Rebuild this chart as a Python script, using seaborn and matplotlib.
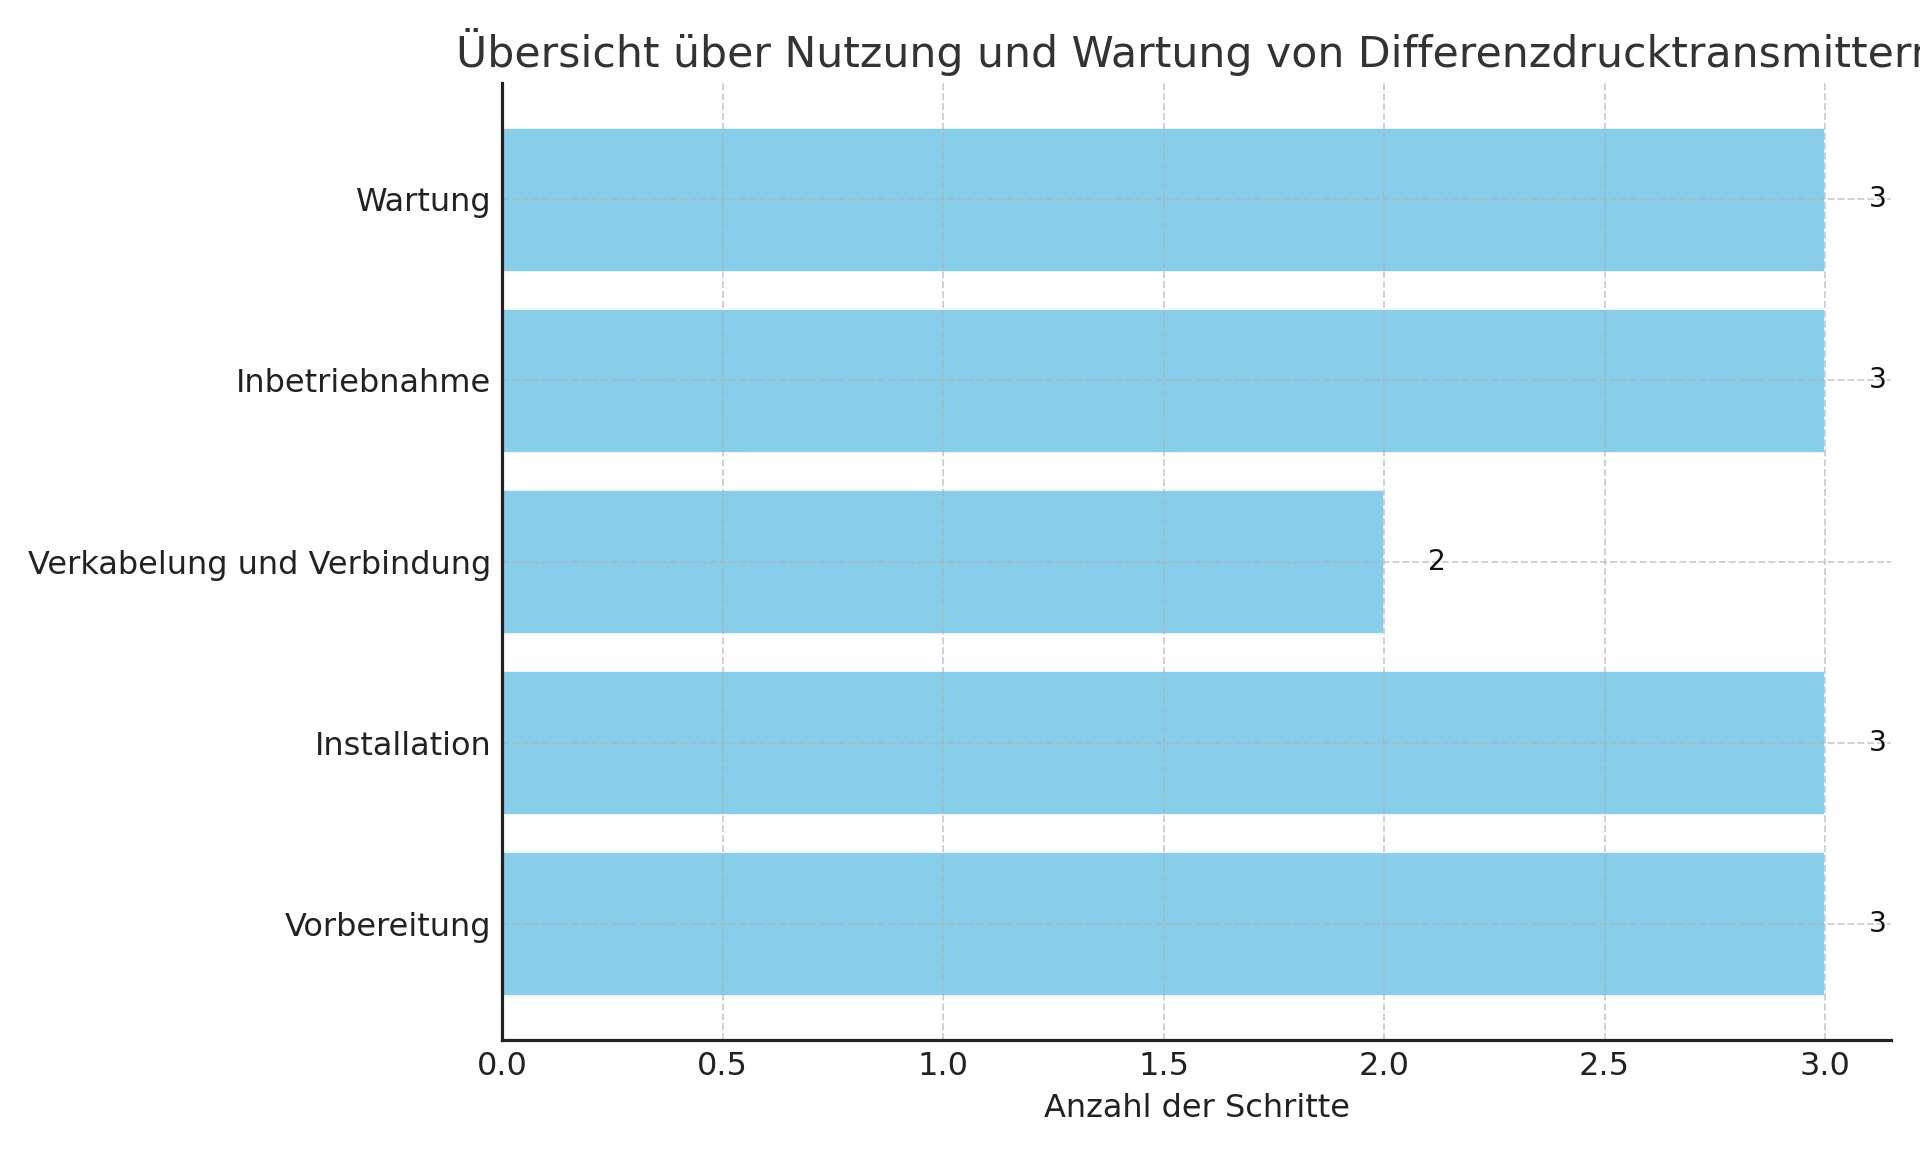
import matplotlib
matplotlib.use("Agg")
import matplotlib.pyplot as plt
import seaborn as sns
import pandas as pd

categories = ["Vorbereitung", "Installation", "Verkabelung und Verbindung", "Inbetriebnahme", "Wartung"]
steps = [3, 3, 2, 3, 3]

title = "Übersicht über Nutzung und Wartung von Differenzdrucktransmittern"
xlabel = "Anzahl der Schritte"

sns.set_style("white")
plt.rcParams['font.family'] = ['DejaVu Sans']
plt.rcParams['axes.axisbelow'] = 'line'

df = pd.DataFrame({"Phase": categories, "Schritte": steps})
order = categories[::-1]

fig = plt.figure(figsize=(10, 6), dpi=192)
ax = fig.add_axes([0.2615, 0.097, 0.7235, 0.831])

sns.barplot(data=df, x="Schritte", y="Phase", order=order, orient="h",
            color="#87CEEB", saturation=1, width=0.8, ax=ax)

for i, cat in enumerate(order):
    v = steps[categories.index(cat)]
    ax.text(v + 0.1, i, str(v), va="center", ha="left", fontsize=10.5, color="#111111")

ax.set_xlim(0, 3.15)
ax.set_ylim(4.643, -0.643)
ax.set_xlabel(xlabel, fontsize=12, color="#222222", labelpad=4)
ax.set_ylabel("")
ax.set_title(title, fontsize=16, color="#333333")
ax.tick_params(axis="both", direction="in", labelsize=12, length=3.5, width=0.8, colors="#222222", pad=4)
ax.grid(True, linestyle="--", color="#b0b0b0", linewidth=0.7, alpha=0.6)
ax.set_axisbelow(False)
for p in ax.patches:
    p.set_zorder(1)
sns.despine(ax=ax, top=True, right=True)
for s in ["left", "bottom"]:
    ax.spines[s].set_color("#222222")
    ax.spines[s].set_linewidth(1.2)
    ax.spines[s].set_zorder(3)

fig.savefig("out.png", dpi=192)
